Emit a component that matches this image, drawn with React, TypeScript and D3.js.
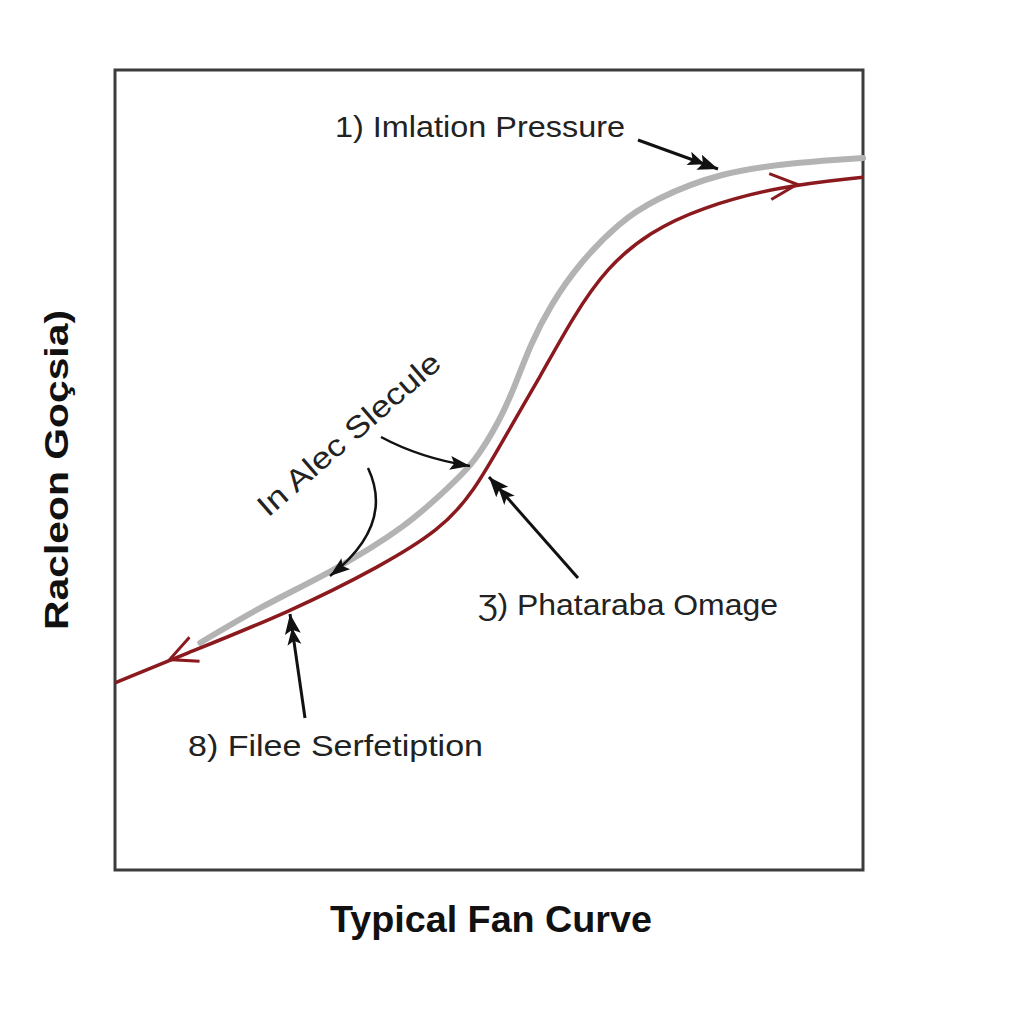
import React from "react";
import * as d3 from "d3";

const grayX = [11.4, 19.4, 28.7, 39.0, 45.2, 47.9, 51.5, 53.5, 55.5, 58.2, 62.2, 67.5, 71.9, 80.9, 91.6, 100];
const grayY = [28.4, 32.9, 37.1, 42.9, 48.4, 50.75, 56.25, 60.6, 65.6, 70.6, 76, 81, 83.75, 87.25, 88.5, 89];
const redX = [0, 8.7, 23.4, 35.8, 43.4, 47.9, 52.4, 56.8, 61.2, 65.8, 71.5, 78.2, 88.9, 100];
const redY = [23.4, 26.75, 32.25, 38.1, 42.5, 47.1, 54.6, 61.6, 69.1, 75.4, 79.75, 82.75, 85.5, 86.6];

const title = "Typical Fan Curve";
const yLabel = "Racleon Goçsia)";
const labels = ["1) Imlation Pressure", "In Alec Slecule", "Ʒ) Phataraba Omage", "8) Filee Serfetiption"];

export default function App() {
  const W = 1024, H = 1024;
  const x = d3.scaleLinear().domain([0, 100]).range([115, 863]);
  const y = d3.scaleLinear().domain([0, 100]).range([870, 70]);
  const line = d3.line<[number, number]>().x(d => x(d[0])).y(d => y(d[1])).curve(d3.curveBasis);
  const gray = grayX.map((v, i) => [v, grayY[i]] as [number, number]);
  const red = redX.map((v, i) => [v, redY[i]] as [number, number]);

  const chevron = (px: number, py: number, dx: number, dy: number) => {
    const len = Math.hypot(dx, dy); const ux = dx / len, uy = dy / len;
    const s = 27, w = 13;
    const bx = px - ux * s, by = py - uy * s;
    return `M${bx - uy * w},${by + ux * w} L${px},${py} L${bx + uy * w},${by - ux * w}`;
  };

  const font = "'Liberation Sans', Arial, sans-serif";
  return (
    <svg width={W} height={H} style={{ position: "absolute", left: 0, top: 0, background: "#fff" }}>
      <defs>
        <marker id="dbl" viewBox="0 0 36 18" refX="35" refY="9" markerWidth="36" markerHeight="18" markerUnits="userSpaceOnUse" orient="auto">
          <path d="M15,1 L35,9 L15,17 L19,9 Z" fill="#111" />
          <path d="M4,2 L21,9 L4,16 L8,9 Z" fill="#111" />
        </marker>
        <marker id="sgl" viewBox="0 0 22 16" refX="21" refY="8" markerWidth="22" markerHeight="16" markerUnits="userSpaceOnUse" orient="auto">
          <path d="M1,1 L21,8 L1,15 L5,8 Z" fill="#111" />
        </marker>
      </defs>
      <rect x={0} y={0} width={W} height={H} fill="#fff" />
      <rect x={x(0)} y={y(100)} width={x(100) - x(0)} height={y(0) - y(100)} fill="none" stroke="#3c3c3c" strokeWidth={3} />
      <path d={line(gray) || ""} fill="none" stroke="#b3b3b3" strokeWidth={6} strokeLinecap="round" />
      <path d={line(red) || ""} fill="none" stroke="#8b1a1f" strokeWidth={3.5} />
      <path d={chevron(x(91.2), y(85.7), 1, -0.08)} fill="none" stroke="#8b1a1f" strokeWidth={3} />
      <path d={chevron(x(7.3), y(26.3), -1, 0.42)} fill="none" stroke="#8b1a1f" strokeWidth={3} />

      {/* annotation arrows */}
      <line x1={638} y1={140} x2={718} y2={169} stroke="#111" strokeWidth={3} markerEnd="url(#dbl)" />
      <path d="M381,437 Q420,458 470,466" fill="none" stroke="#111" strokeWidth={2.5} markerEnd="url(#sgl)" />
      <path d="M368,468 Q395,525 330,576" fill="none" stroke="#111" strokeWidth={2.5} markerEnd="url(#sgl)" />
      <line x1={578} y1={578} x2={489} y2={477} stroke="#111" strokeWidth={3} markerEnd="url(#dbl)" />
      <line x1={305} y1={718} x2={290} y2={614} stroke="#111" strokeWidth={3} markerEnd="url(#dbl)" />

      <text x={335} y={137} fontFamily={font} fontSize={30} fill="#222" textLength={290} lengthAdjust="spacingAndGlyphs">{labels[0]}</text>
      <text transform="translate(268,518) rotate(-41)" fontFamily={font} fontSize={30} fill="#222" textLength={232} lengthAdjust="spacingAndGlyphs">{labels[1]}</text>
      <text x={478} y={615} fontFamily={font} fontSize={30} fill="#222" textLength={300} lengthAdjust="spacingAndGlyphs">{labels[2]}</text>
      <text x={188} y={756} fontFamily={font} fontSize={30} fill="#222" textLength={295} lengthAdjust="spacingAndGlyphs">{labels[3]}</text>

      <text transform="translate(68,470) rotate(-90)" textAnchor="middle" fontFamily={font} fontSize={34} fontWeight="bold" fill="#111" textLength={320} lengthAdjust="spacingAndGlyphs">{yLabel}</text>
      <text x={491} y={932} textAnchor="middle" fontFamily={font} fontSize={36} fontWeight="bold" fill="#111" textLength={322} lengthAdjust="spacingAndGlyphs">{title}</text>
    </svg>
  );
}
